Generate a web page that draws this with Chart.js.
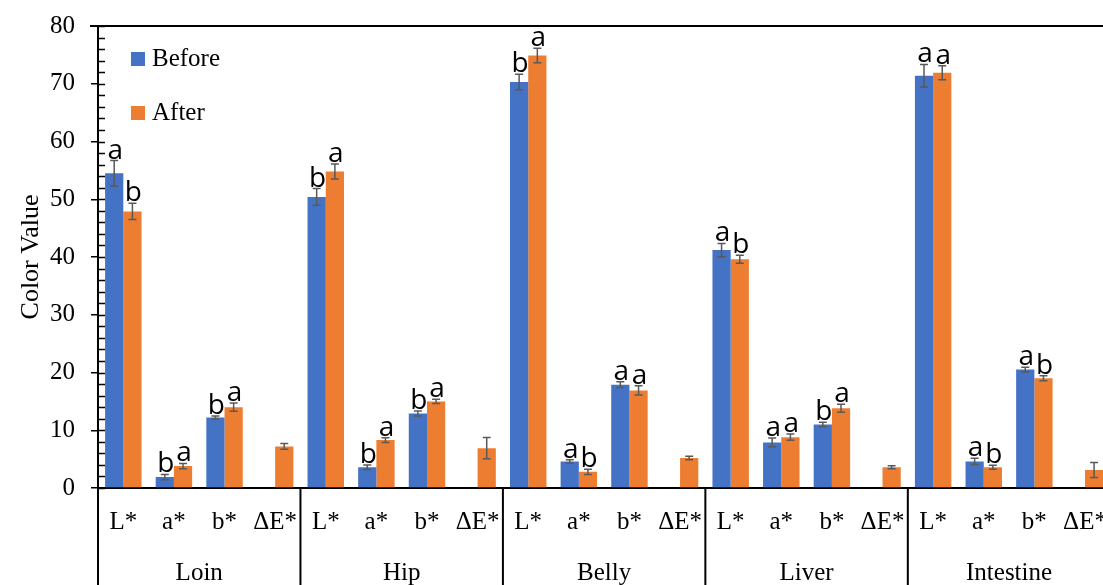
<!DOCTYPE html>
<html>
<head>
<meta charset="utf-8">
<script src="https://cdn.jsdelivr.net/npm/chart.js@4.4.1/dist/chart.umd.min.js"></script>
<style>
  html, body { margin: 0; padding: 0; background: #fff; overflow: hidden; }
  #wrap { width: 1118px; height: 585px; }
</style>
</head>
<body>
<div id="wrap"><canvas id="chart" width="1118" height="585"></canvas></div>
<script>
const groups = ["Loin", "Hip", "Belly", "Liver", "Intestine"];
const params = ["L*", "a*", "b*", "ΔE*"];
const labels = groups.flatMap(() => params);

const beforeValues = [54.5, 1.9, 12.2, null, 50.4, 3.6, 12.9, null, 70.3, 4.6, 17.9, null, 41.2, 7.9, 11.0, null, 71.4, 4.6, 20.5, null];
const afterValues = [47.9, 3.8, 14.0, 7.2, 54.8, 8.3, 15.0, 6.9, 74.9, 2.8, 16.9, 5.2, 39.6, 8.8, 13.8, 3.6, 71.9, 3.6, 19.0, 3.1];
const beforeErrors = [2.2, 0.45, 0.25, null, 1.45, 0.4, 0.45, null, 1.35, 0.3, 0.5, null, 1.15, 0.75, 0.4, null, 1.95, 0.55, 0.4, null];
const afterErrors = [1.4, 0.45, 0.7, 0.5, 1.3, 0.4, 0.35, 1.85, 1.25, 0.45, 0.8, 0.3, 0.7, 0.55, 0.7, 0.25, 1.2, 0.35, 0.45, 1.3];
const beforeLetters = ["a", "b", "b", "", "b", "b", "b", "", "b", "a", "a", "", "a", "a", "b", "", "a", "a", "a", ""];
const afterLetters = ["b", "a", "a", "", "a", "a", "a", "", "a", "b", "a", "", "b", "a", "a", "", "a", "b", "b", ""];

const serif = "'Liberation Serif', 'Times New Roman', serif";

//Error bars, letters, frame lines and legend
const extras = {
    id: "extras",
    afterDatasetsDraw(chart) {
        const ctx = chart.ctx;
        const y = chart.scales.y;
        const x = chart.scales.x;
        const area = chart.chartArea;
        const errs = [beforeErrors, afterErrors];
        const letters = [beforeLetters, afterLetters];

        ctx.save();
        chart.data.datasets.forEach((ds, d) => {
            const meta = chart.getDatasetMeta(d);
            meta.data.forEach((bar, i) => {
                const v = ds.data[i];
                if (v == null) return;
                const e = errs[d][i];
                const top = y.getPixelForValue(v + e);
                const bot = y.getPixelForValue(v - e);
                ctx.strokeStyle = "#595959";
                ctx.lineWidth = 1.5;
                ctx.beginPath();
                ctx.moveTo(bar.x, top); ctx.lineTo(bar.x, bot);
                ctx.moveTo(bar.x - 4, top); ctx.lineTo(bar.x + 4, top);
                ctx.moveTo(bar.x - 4, bot); ctx.lineTo(bar.x + 4, bot);
                ctx.stroke();
                if (letters[d][i]) {
                    ctx.fillStyle = "#000";
                    ctx.font = "28px 'Open Sans', sans-serif";
                    ctx.textAlign = "center";
                    ctx.textBaseline = "alphabetic";
                    ctx.fillText(letters[d][i], bar.x + 1, top - 2);
                }
            });
        });

        // top frame line
        ctx.strokeStyle = "#000";
        ctx.lineWidth = 2;
        ctx.beginPath();
        ctx.moveTo(area.left - 8, area.top);
        ctx.lineTo(area.right, area.top);
        ctx.stroke();

        // minor ticks inside the y axis
        ctx.lineWidth = 1.5;
        ctx.beginPath();
        for (let v = 0; v <= 80; v += 2) {
            const py = Math.round(y.getPixelForValue(v)) + 0.5;
            ctx.moveTo(area.left, py);
            ctx.lineTo(area.left + 7, py);
        }
        ctx.stroke();

        // group separators below the x axis
        ctx.lineWidth = 2;
        ctx.beginPath();
        ctx.moveTo(area.left, area.top);
        ctx.lineTo(area.left, chart.height);
        for (let g = 1; g < groups.length; g++) {
            const px = (x.getPixelForValue(g * 4 - 1) + x.getPixelForValue(g * 4)) / 2;
            ctx.moveTo(px, area.bottom);
            ctx.lineTo(px, chart.height);
        }
        ctx.stroke();

        // legend inside plot
        ctx.font = "25px " + serif;
        ctx.textAlign = "left";
        ctx.textBaseline = "middle";
        chart.data.datasets.forEach((ds, d) => {
            const cy = area.top + 33 + d * 54;
            ctx.fillStyle = ds.backgroundColor;
            ctx.fillRect(area.left + 33, cy - 7, 14, 14);
            ctx.fillStyle = "#000";
            ctx.fillText(ds.label, area.left + 54, cy);
        });
        ctx.restore();
    }
};

new Chart(document.querySelector("#chart"), {
    type: "bar",
    data: {
        labels: labels,
        datasets: [
            { label: "Before", data: beforeValues, backgroundColor: "#4472C4" },
            { label: "After", data: afterValues, backgroundColor: "#ED7D31" }
        ]
    },
    options: {
        responsive: false,
        animation: false,
        devicePixelRatio: 1,
        layout: { padding: { left: 0, right: 4, top: 25, bottom: 0 } },
        categoryPercentage: 0.72,
        barPercentage: 1,
        plugins: { legend: { display: false }, tooltip: { enabled: false } },
        scales: {
            x: {
                type: "category",
                offset: true,
                grid: { display: false },
                border: { color: "#000", width: 2 },
                ticks: { color: "#000", font: { family: serif, size: 25 }, padding: 11, maxRotation: 0, autoSkip: false },
                afterFit(scale) { scale.height = 58; }
            },
            xg: {
                type: "category",
                position: "bottom",
                labels: groups,
                offset: true,
                grid: { display: false },
                border: { display: false },
                ticks: { color: "#000", font: { family: serif, size: 25 }, padding: 4, maxRotation: 0 },
                afterFit(scale) { scale.height = 39; }
            },
            y: {
                min: 0,
                max: 80,
                ticks: { stepSize: 10, color: "#000", font: { family: serif, size: 25, lineHeight: 0.8 }, padding: 16 },
                grid: { drawOnChartArea: false, drawTicks: true, tickLength: 7, color: "#000", lineWidth: 1.5 },
                border: { color: "#000", width: 2 },
                title: { display: true, text: "Color Value", color: "#000", font: { family: serif, size: 26 }, padding: { top: 16, bottom: 0 } },
                afterFit(scale) { scale.width = 98; }
            }
        }
    },
    plugins: [extras]
});
</script>
</body>
</html>
